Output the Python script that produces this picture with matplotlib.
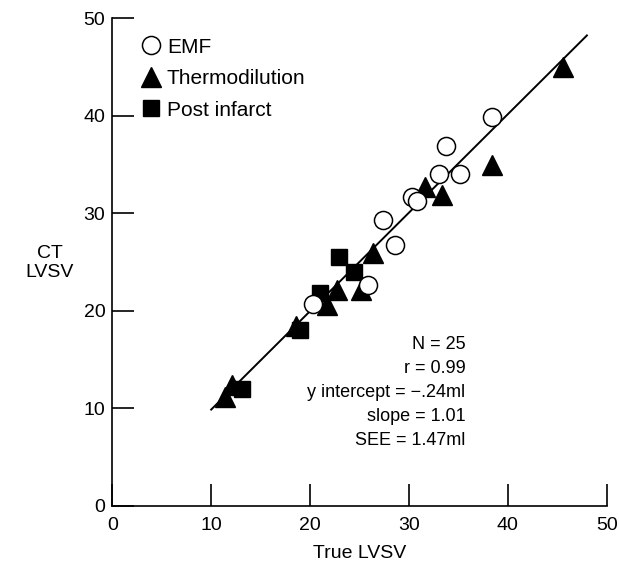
import matplotlib
matplotlib.use('Agg')
import matplotlib.pyplot as plt

plt.rcParams['font.family'] = ['Liberation Sans', 'DejaVu Sans']

# EMF (open circles)
emf_x = [38.4, 33.8, 33.0, 35.2, 30.3, 30.8, 27.4, 28.6, 25.9, 20.3]
emf_y = [39.9, 36.9, 34.0, 34.0, 31.7, 31.3, 29.3, 26.7, 22.6, 20.7]

# Thermodilution (filled triangles)
thermo_x = [45.6, 38.4, 33.3, 31.6, 26.4, 22.7, 25.2, 21.7, 18.6, 12.1, 11.4]
thermo_y = [45.0, 34.9, 31.9, 32.7, 25.9, 22.1, 22.1, 20.6, 18.4, 12.4, 11.2]

# Post infarct (filled squares)
post_x = [22.9, 24.4, 21.0, 19.0, 13.1]
post_y = [25.5, 24.0, 21.8, 18.0, 12.0]

# regression line
slope = 1.01
intercept = -0.24
line_x = [10, 48]

stats_lines = ['N = 25', 'r = 0.99', 'y intercept = \u2212.24ml',
               'slope = 1.01', 'SEE = 1.47ml']
ticks = [0, 10, 20, 30, 40, 50]

fig = plt.figure(figsize=(6.19, 5.66), dpi=100)
ax = fig.add_axes([0.1814, 0.1065, 0.7987, 0.8612])

line_y = [slope * v + intercept for v in line_x]
ax.plot(line_x, line_y, color='black', lw=1.4, zorder=1)

# draw order so the circles sit on top like the print
ax.plot(post_x, post_y, 's', ms=12, color='black', ls='none',
        label='Post infarct', zorder=2)
ax.plot(thermo_x, thermo_y, '^', ms=14, color='black', ls='none',
        label='Thermodilution', zorder=3)
ax.plot(emf_x, emf_y, 'o', ms=13, mfc='white', mec='black', mew=1.1,
        ls='none', label='EMF', zorder=4)

handles, labels = ax.get_legend_handles_labels()
ax.legend(handles[::-1], labels[::-1], loc='upper left',
          bbox_to_anchor=(0.02, 0.99), frameon=False, fontsize=15,
          handletextpad=0.05, labelspacing=0.6, handlelength=1.4,
          borderpad=0.2)

ax.text(35.7, 11.6, '\n'.join(stats_lines), ha='right', va='center',
        multialignment='right', fontsize=13, linespacing=1.55)

ax.set_xlim(0, 50)
ax.set_ylim(0, 50)
ax.set_xticks(ticks)
ax.set_yticks(ticks)
ax.tick_params(direction='in', length=16, width=1.2, labelsize=14, pad=5)
ax.tick_params(axis='x', pad=8)
ax.spines['top'].set_visible(False)
ax.spines['right'].set_visible(False)
ax.spines['left'].set_linewidth(1.2)
ax.spines['bottom'].set_linewidth(1.2)

ax.set_xlabel('True LVSV', fontsize=14, labelpad=8)
ax.set_ylabel('CT\nLVSV', fontsize=14, rotation=0, ha='center', va='center')
ax.yaxis.set_label_coords(-0.126, 0.498)

fig.savefig('out.png', dpi=100)
